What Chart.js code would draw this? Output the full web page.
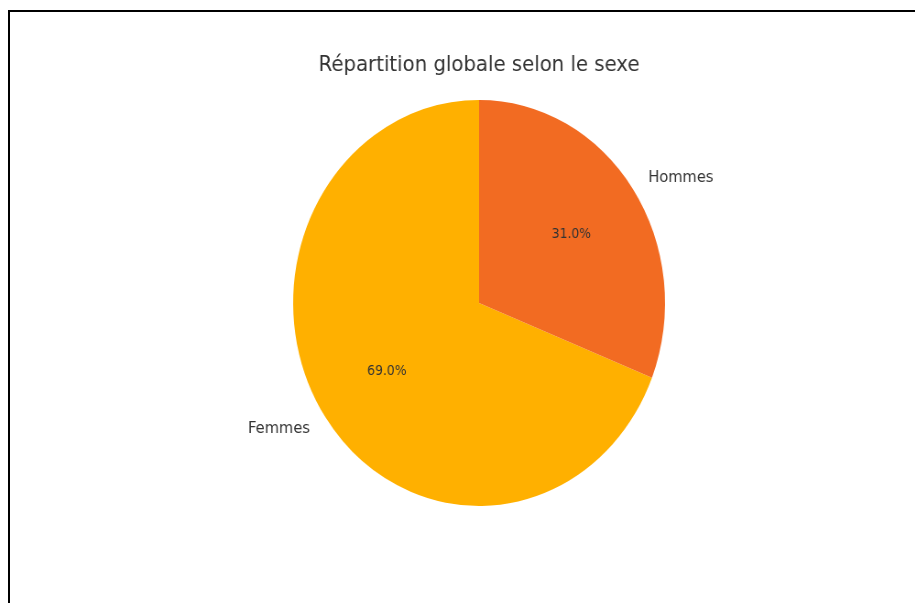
<!DOCTYPE html>
<html lang="fr">
<head>
    <meta charset="UTF-8">
    <title>Répartition globale selon le sexe</title>
    <script src="https://cdn.jsdelivr.net/npm/chart.js"></script>
    <style>
        html, body {
            margin: 0;
            background: #fff;
            width: 915px;
            height: 603px;
            overflow: hidden;
        }
        body { position: relative; }
        #frame {
            position: absolute;
            left: 8px;
            top: 10px;
            width: 930px;
            height: 620px;
            border-top: 2px solid #000;
            border-left: 2px solid #000;
        }
        #clip {
            position: absolute;
            left: 0;
            top: 0;
            width: 915px;
            height: 603px;
            overflow: hidden;
        }
        /* the source picture is squeezed horizontally, so is the chart */
        #chartBox {
            position: absolute;
            left: 0;
            top: 0;
            width: 999px;
            height: 603px;
            transform-origin: 0 0;
            transform: scaleX(0.916);
        }
    </style>
</head>
<body>
    <div id="frame"></div>
    <div id="clip">
        <div id="chartBox">
            <canvas id="pieChart" width="999" height="603"></canvas>
        </div>
    </div>

    <script>
        const chartTitle = 'Répartition globale selon le sexe';
        const categories = ['Femmes', 'Hommes'];
        const shares = [69.0, 31.0];
        const colours = ['#FFB000', '#F26B22'];
        const fontFamily = '"DejaVu Sans", sans-serif';

        // matplotlib style labels: name at 1.1 r, percentage at 0.6 r
        const pieLabels = {
            id: 'pieLabels',
            afterDraw(chart) {
                const ctx = chart.ctx;
                const arcs = chart.getDatasetMeta(0).data;
                const total = shares.reduce((a, b) => a + b, 0);
                ctx.save();
                ctx.textBaseline = 'middle';

                arcs.forEach((arc, i) => {
                    const mid = (arc.startAngle + arc.endAngle) / 2;
                    const r = arc.outerRadius;
                    const cos = Math.cos(mid), sin = Math.sin(mid);

                    ctx.fillStyle = '#333';
                    ctx.font = '16px ' + fontFamily;
                    ctx.textAlign = cos > 0 ? 'left' : 'right';
                    ctx.fillText(categories[i], arc.x + cos * r * 1.1, arc.y + sin * r * 1.1);

                    ctx.font = '13.5px ' + fontFamily;
                    ctx.textAlign = 'center';
                    const pct = (shares[i] / total * 100).toFixed(1) + '%';
                    ctx.fillText(pct, arc.x + cos * r * 0.6, arc.y + sin * r * 0.6);
                });

                const area = chart.chartArea;
                ctx.fillStyle = '#333';
                ctx.font = '21.5px ' + fontFamily;
                ctx.textAlign = 'center';
                ctx.fillText(chartTitle, (area.left + area.right) / 2, 65);
                ctx.restore();
            }
        };

        new Chart(document.getElementById('pieChart'), {
            type: 'pie',
            data: {
                labels: categories,
                datasets: [{
                    data: shares,
                    backgroundColor: colours,
                    borderWidth: 0
                }]
            },
            options: {
                responsive: false,
                animation: false,
                devicePixelRatio: 1,
                rotation: shares[1] * 3.6,
                layout: {
                    padding: { left: 300, right: 253, top: 100, bottom: 97 }
                },
                plugins: {
                    legend: { display: false },
                    tooltip: { enabled: false }
                }
            },
            plugins: [pieLabels]
        });
    </script>
</body>
</html>
